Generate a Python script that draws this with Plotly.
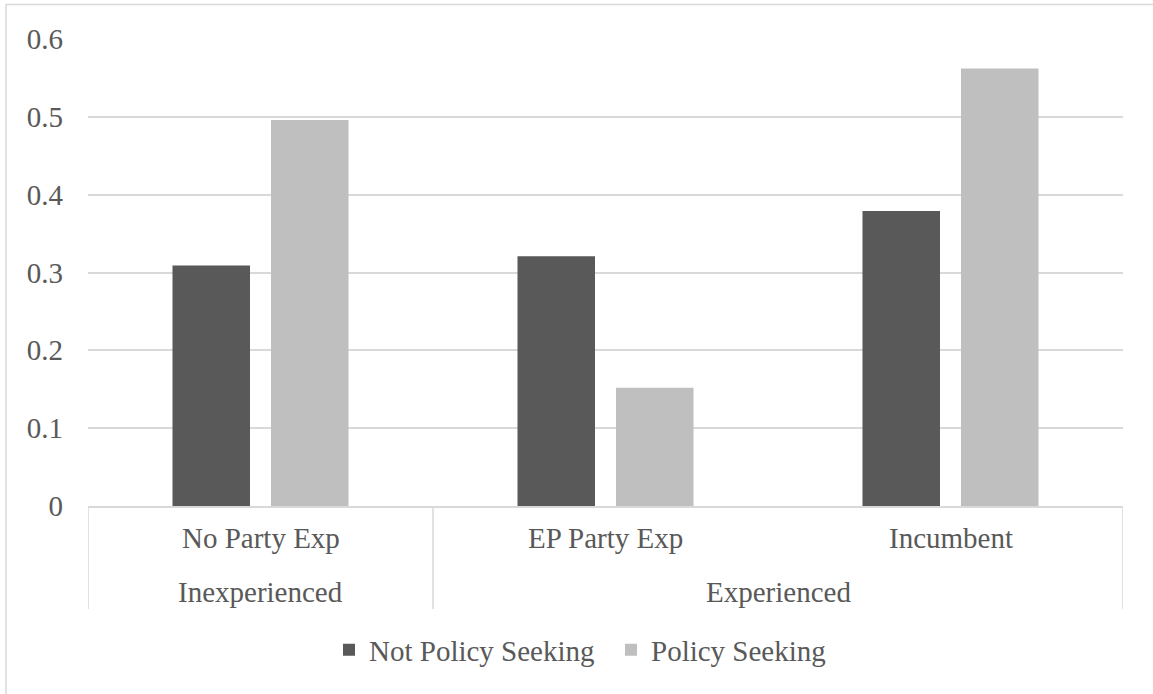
import plotly.graph_objects as go

# Category structure (inner level / outer level)
subgroups = ["No Party Exp", "EP Party Exp", "Incumbent"]
groups = ["Inexperienced", "Experienced"]
group_spans = [[0, 0], [1, 2]]  # subgroup indices covered by each outer group

# Series values
not_policy_seeking = [0.309, 0.321, 0.379]
policy_seeking = [0.496, 0.152, 0.562]

# Axis ticks
y_ticks = [0, 0.1, 0.2, 0.3, 0.4, 0.5, 0.6]
y_tick_labels = ["0", "0.1", "0.2", "0.3", "0.4", "0.5", "0.6"]

TEXT = "#595959"
GRID = "#D9D9D9"
FONT = "Liberation Serif, Times New Roman, serif"
FS = 29

fig = go.Figure()
fig.add_trace(go.Bar(name="Not Policy Seeking", x=subgroups, y=not_policy_seeking,
                     marker=dict(color="#595959", line=dict(width=0))))
fig.add_trace(go.Bar(name="Policy Seeking", x=subgroups, y=policy_seeking,
                     marker=dict(color="#BFBFBF", line=dict(width=0))))

W, H = 1153, 694
ml, mr, mt, mb = 88, 30, 39, 188
ph = H - mt - mb
pw = W - ml - mr


def py(pixel_y):
    """Convert a page pixel row to a paper y coordinate."""
    return (H - mb - pixel_y) / ph


def px(pixel_x):
    return (pixel_x - ml) / pw


shapes = []
# Category-axis box lines (outer level dividers)
for xb in [-0.5, 0.5, 2.5]:
    shapes.append(dict(type="line", xref="x", yref="paper", x0=xb, x1=xb,
                       y0=0, y1=py(609), line=dict(color=GRID, width=1.5)))
# Chart-area border
shapes.append(dict(type="rect", xref="paper", yref="paper",
                   x0=px(6), x1=px(W + 20), y0=py(H + 20), y1=py(4.5),
                   line=dict(color=GRID, width=1.5), fillcolor="rgba(0,0,0,0)",
                   layer="below"))

annotations = []
for i, s in enumerate(subgroups):
    annotations.append(dict(x=i, y=py(538), xref="x", yref="paper", text=s,
                            showarrow=False, xanchor="center", yanchor="middle",
                            font=dict(family=FONT, size=FS, color=TEXT)))
for g, (a, b) in zip(groups, group_spans):
    annotations.append(dict(x=(a + b) / 2, y=py(592), xref="x", yref="paper", text=g,
                            showarrow=False, xanchor="center", yanchor="middle",
                            font=dict(family=FONT, size=FS, color=TEXT)))

fig.update_layout(
    width=W, height=H,
    margin=dict(l=ml, r=mr, t=mt, b=mb, pad=0),
    paper_bgcolor="white", plot_bgcolor="white",
    barmode="group", bargap=0.429, bargroupgap=0.213,
    font=dict(family=FONT, size=FS, color=TEXT),
    xaxis=dict(showticklabels=False, showgrid=False, showline=True,
               linecolor=GRID, linewidth=1.5, ticks="", range=[-0.5, 2.5]),
    yaxis=dict(range=[0, 0.6], tickvals=y_ticks, ticktext=y_tick_labels,
               showgrid=True, gridcolor=GRID, gridwidth=1.5, zeroline=False,
               showline=False, ticks="", ticklabelstandoff=24,
               tickfont=dict(family=FONT, size=FS, color=TEXT)),
    legend=dict(orientation="h", x=px(329), xanchor="left", y=py(650),
                yanchor="middle", font=dict(family=FONT, size=FS, color=TEXT),
                itemwidth=30, entrywidth=237, traceorder="normal"),
    shapes=shapes,
    annotations=annotations,
)

fig.write_html("out.html")
